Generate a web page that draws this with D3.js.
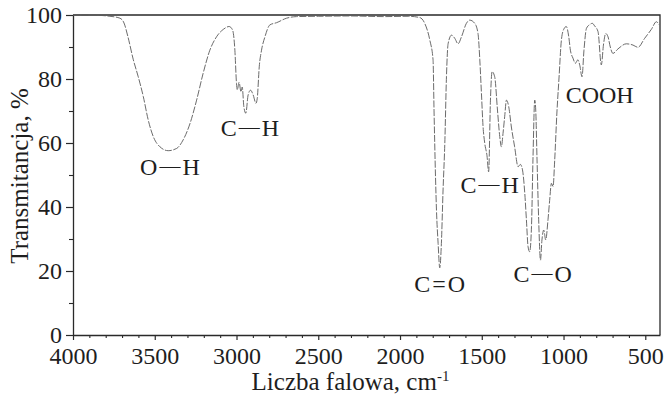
<!DOCTYPE html>
<html>
<head>
<meta charset="utf-8">
<script src="https://cdn.jsdelivr.net/npm/d3@7"></script>
<style>
  body { margin: 0; background: #fff; }
  svg text { font-family: "Liberation Serif", "DejaVu Serif", serif; fill: #1e1e1e; }
</style>
</head>
<body>
<div id="chart"></div>
<script>
// IR spectrum (wavenumber cm-1 -> transmittance %)
const wavenumber = [
  4000, 3896, 3774, 3713, 3688, 3664, 3631, 3601, 3570, 3540, 3509, 3468, 3418, 3366, 3326, 3285,
  3244, 3204, 3163, 3122, 3081, 3045, 3024, 3010, 3000, 2995, 2984, 2973, 2965, 2955, 2943, 2929,
  2914, 2898, 2881, 2873, 2861, 2847, 2826, 2796, 2755, 2694, 2633, 2500, 2300, 2100, 1950, 1879,
  1849, 1818, 1798, 1792, 1783, 1777, 1767, 1757, 1747, 1737, 1726, 1716, 1706, 1685, 1665, 1645,
  1624, 1594, 1574, 1543, 1523, 1512, 1502, 1492, 1482, 1468, 1458, 1447, 1437, 1421, 1404, 1390,
  1380, 1370, 1360, 1349, 1335, 1319, 1299, 1278, 1264, 1251, 1237, 1227, 1217, 1207, 1196, 1187,
  1176, 1170, 1162, 1152, 1141, 1132, 1121, 1109, 1095, 1085, 1074, 1064, 1054, 1040, 1028, 1013,
  999, 983, 968, 958, 942, 928, 912, 901, 887, 875, 860, 840, 824, 810, 789, 769,
  755, 742, 728, 714, 698, 667, 616, 575, 545, 504, 463, 432, 416
];
const transmittance = [
  100, 100, 99.6, 99, 97.5, 93.2, 86, 80.7, 74.5, 67.2, 62, 58.8, 57.6, 58.3, 61, 66,
  73.4, 81.8, 89, 93.2, 95.5, 96.4, 95.3, 89, 78.6, 76.6, 79, 76, 77.5, 71.3, 69.3, 75,
  76.5, 75, 72.4, 74, 83.8, 89, 93.2, 96.9, 97.6, 99, 99.5, 99.6, 99.7, 99.5, 99.6, 99.2,
  97.4, 92.2, 86, 70.3, 49.5, 39, 28.6, 21, 28.6, 45, 60, 80.7, 91, 93.7, 92.7, 91,
  93.2, 97.4, 98.4, 97.4, 94.2, 86, 75.5, 65, 60, 56, 51, 73.4, 82.3, 80.7, 70.3, 62,
  58.8, 63, 68.2, 73.4, 71.3, 65, 58.8, 52.6, 53.3, 51.6, 44.3, 36, 27.6, 26, 33.8, 54.7,
  73.4, 70.3, 54.7, 36, 23.4, 29.7, 32.8, 29.7, 36, 42, 47.4, 46.4, 54.7, 70, 80, 92.2,
  95.5, 96.4, 93.2, 89, 86.5, 84.9, 86, 84.4, 80.7, 89, 95.8, 97, 97.4, 96.6, 94.8, 84.4,
  91, 94.2, 93.2, 90, 88, 89.4, 91, 90.6, 89.9, 92.7, 95.5, 97.9, 97
];

const xTicks = [4000, 3500, 3000, 2500, 2000, 1500, 1000, 500];
const xMinorTicks = d3.range(3900, 400, -100).filter(v => v % 500 !== 0);
const yTicks = [0, 20, 40, 60, 80, 100];
const yMinorTicks = [10, 30, 50, 70, 90];

// band labels: [left atom, bond, right atom], anchored at (wavenumber, transmittance)
const bandLabels = [
  { parts: ["O", "\u2014", "H"], w: 3407, t: 50 },
  { parts: ["C", "\u2014", "H"], w: 2918, t: 62.2 },
  { parts: ["C", "=", "O"], w: 1757, t: 13.4 },
  { parts: ["C", "\u2014", "H"], w: 1451, t: 44.4 },
  { parts: ["C", "\u2014", "O"], w: 1127, t: 16.6 },
  { parts: ["COOH", "", ""], w: 779, t: 72.5 }
];

const width = 667, height = 396;
const margin = { left: 73, right: 7, top: 15, bottom: 61 };

const svg = d3.select("#chart").append("svg")
  .attr("width", width)
  .attr("height", height)
  .attr("viewBox", [0, 0, width, height]);

const x = d3.scaleLinear()
  .domain([4000, 410])
  .range([margin.left, width - margin.right]);

const y = d3.scaleLinear()
  .domain([0, 100])
  .range([height - margin.bottom, margin.top]);

const axisColor = "#2a2a2a";

// frame (top and right)
svg.append("path")
  .attr("d", `M${x.range()[0]},${y(100)}H${x.range()[1]}V${y(0)}`)
  .attr("fill", "none")
  .attr("stroke", axisColor)
  .attr("stroke-width", 1.3);

// minor ticks first, no labels
svg.append("g")
  .attr("transform", `translate(0,${y(0)})`)
  .call(d3.axisBottom(x).tickValues(xMinorTicks).tickSize(3).tickFormat(""))
  .call(g => g.select(".domain").remove())
  .call(g => g.selectAll("line").attr("stroke", axisColor).attr("stroke-width", 1.1));

svg.append("g")
  .attr("transform", `translate(${x.range()[0]},0)`)
  .call(d3.axisLeft(y).tickValues(yMinorTicks).tickSize(4).tickFormat(""))
  .call(g => g.select(".domain").remove())
  .call(g => g.selectAll("line").attr("stroke", axisColor).attr("stroke-width", 1.1));

const xAxis = svg.append("g")
  .attr("transform", `translate(0,${y(0)})`)
  .call(d3.axisBottom(x).tickValues(xTicks).tickFormat(d3.format("d"))
    .tickSize(5).tickSizeOuter(0).tickPadding(7));

const yAxis = svg.append("g")
  .attr("transform", `translate(${x.range()[0]},0)`)
  .call(d3.axisLeft(y).tickValues(yTicks).tickFormat(d3.format("d"))
    .tickSize(7).tickSizeOuter(0).tickPadding(4));

[xAxis, yAxis].forEach(a => {
  a.attr("font-family", null);
  a.select(".domain").attr("stroke", axisColor).attr("stroke-width", 1.3);
  a.selectAll(".tick line").attr("stroke", axisColor).attr("stroke-width", 1.2);
  a.selectAll(".tick text")
    .attr("font-size", 24);
});

// spectrum trace
const line = d3.line()
  .x((d, i) => x(wavenumber[i]))
  .y(d => y(d))
  .curve(d3.curveMonotoneX);

svg.append("path")
  .datum(transmittance)
  .attr("d", line)
  .attr("fill", "none")
  .attr("stroke", "#5a5a5a")
  .attr("stroke-width", 0.9)
  .attr("stroke-dasharray", "7,1.6");

// band annotations
const labels = svg.append("g")
  .selectAll("text")
  .data(bandLabels)
  .join("text")
  .attr("x", d => x(d.w))
  .attr("y", d => y(d.t))
  .attr("text-anchor", "middle")
  .attr("font-size", 24);

labels.append("tspan").text(d => d.parts[0]);
labels.append("tspan")
  .attr("dy", d => d.parts[1] === "\u2014" ? -2 : 0)
  .attr("font-size", d => d.parts[1] === "\u2014" ? 21 : 24)
  .attr("dx", d => d.parts[1] ? 2 : 0)
  .text(d => d.parts[1]);
labels.append("tspan")
  .attr("dy", d => d.parts[1] === "\u2014" ? 2 : 0)
  .attr("dx", d => d.parts[2] ? 2 : 0)
  .text(d => d.parts[2]);

// axis titles
const xTitle = svg.append("text")
  .attr("x", (x.range()[0] + x.range()[1]) / 2 - 16)
  .attr("y", 390)
  .attr("text-anchor", "middle")
  .attr("font-size", 25);
xTitle.append("tspan").text("Liczba falowa, cm");
xTitle.append("tspan").attr("dy", -9).attr("font-size", 15).text("-1");

svg.append("text")
  .attr("transform", `translate(28,${(y(0) + y(100)) / 2 + 1}) rotate(-90)`)
  .attr("text-anchor", "middle")
  .attr("font-size", 25)
  .text("Transmitancja, %");
</script>
</body>
</html>
